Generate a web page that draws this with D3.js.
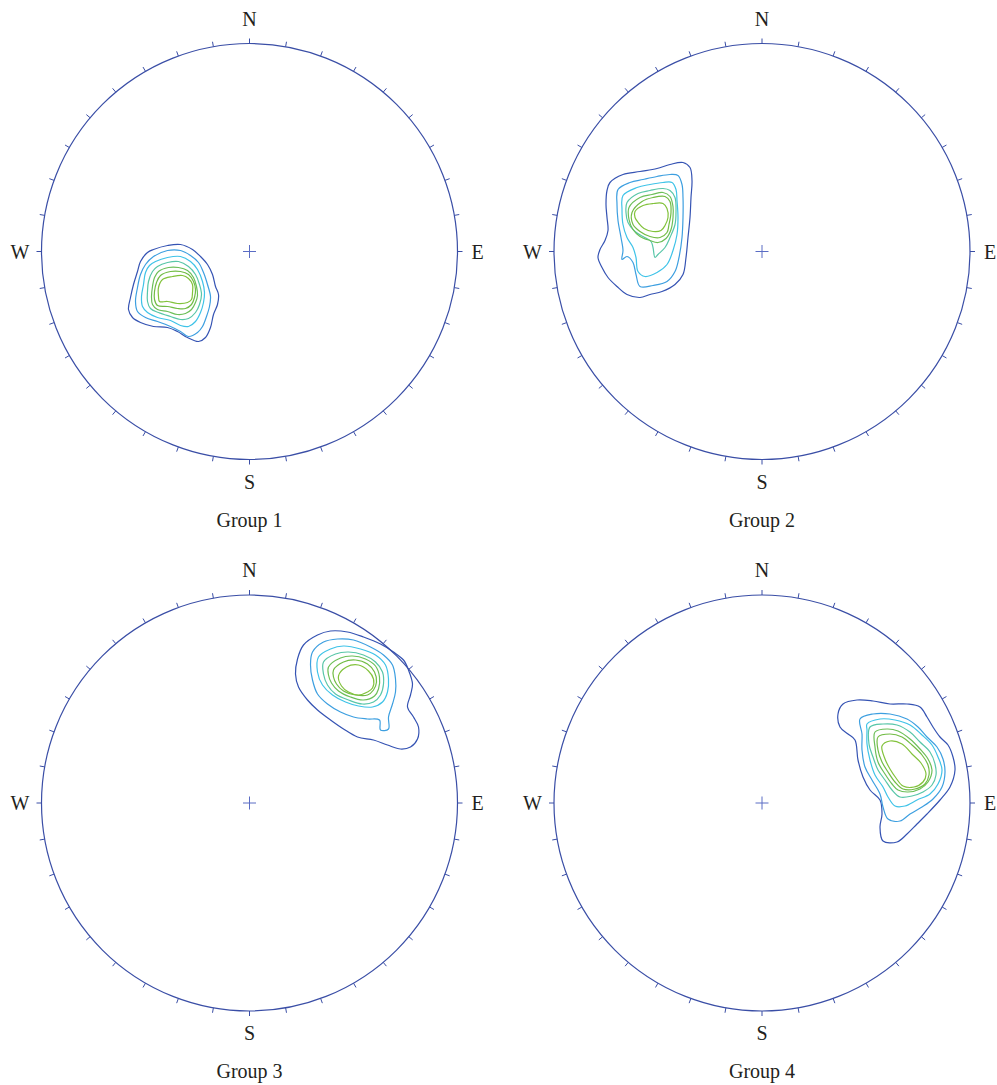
<!DOCTYPE html>
<html>
<head>
<meta charset="utf-8">
<title>Pole density stereonets</title>
<script src="https://d3js.org/d3.v7.min.js"></script>
<style>
  body { margin: 0; background: #fff; }
  text { font-family: "Liberation Serif", "DejaVu Serif", serif; font-size: 20px; fill: #231f20; }
</style>
</head>
<body>
<svg width="997" height="1085"></svg>
<script>
// panel titles and compass labels
var groupNames = ["Group 1", "Group 2", "Group 3", "Group 4"];
var compass = [
  { label: "N", az: 0 },
  { label: "E", az: 90 },
  { label: "S", az: 180 },
  { label: "W", az: 270 }
];
var tickStep = 10; // degrees between rim ticks

// contour level colours, outermost (lowest density) first
var levelColors = ["#3553b3", "#3d9fe0", "#3fc3e8", "#58c6a8", "#6cbf58", "#72bc45", "#82c23b"];

// density contours, traced off the nets: [east, north] in net units (radius 208)
var group1Contours = [
  [[-96,2],[-82,6],[-69,7],[-57,2],[-49,-5],[-42,-13],[-37,-23],[-34,-35],[-31,-43],[-32,-53],[-36,-63],[-39,-76],[-44,-86],[-51,-90],[-62,-86],[-72,-80],[-82,-76],[-96,-75],[-109,-71],[-117,-66],[-121,-58],[-119,-46],[-116,-33],[-112,-20],[-109,-10],[-102,-1]],
  [[-96,-5],[-82,1],[-69,1],[-59,-4],[-51,-11],[-46,-21],[-42,-33],[-39,-45],[-40,-55],[-43,-65],[-47,-75],[-52,-81],[-61,-85],[-69,-80],[-79,-75],[-92,-70],[-104,-66],[-112,-60],[-114,-50],[-112,-36],[-109,-23],[-104,-13]],
  [[-94,-10],[-82,-6],[-69,-5],[-59,-10],[-52,-18],[-47,-30],[-45,-41],[-46,-51],[-49,-61],[-54,-70],[-61,-75],[-69,-74],[-79,-69],[-92,-66],[-102,-61],[-107,-55],[-108,-45],[-106,-33],[-104,-21],[-100,-14]],
  [[-92,-15],[-82,-11],[-71,-10],[-61,-15],[-54,-23],[-50,-33],[-48,-43],[-50,-53],[-54,-61],[-61,-67],[-69,-68],[-79,-65],[-91,-61],[-99,-57],[-102,-50],[-102,-40],[-101,-30],[-97,-20]],
  [[-91,-20],[-81,-16],[-71,-16],[-62,-19],[-56,-26],[-53,-35],[-52,-44],[-54,-51],[-58,-58],[-64,-62],[-72,-63],[-82,-60],[-92,-58],[-97,-53],[-98,-45],[-97,-35],[-95,-26]],
  [[-89,-24],[-79,-20],[-69,-20],[-61,-23],[-56,-30],[-54,-38],[-55,-46],[-58,-53],[-64,-57],[-72,-57],[-82,-55],[-92,-54],[-95,-48],[-95,-40],[-93,-31]],
  [[-87,-28],[-77,-25],[-67,-24],[-61,-27],[-57,-33],[-57,-41],[-58,-48],[-62,-51],[-72,-52],[-82,-50],[-90,-50],[-91,-45],[-91,-36]]
];

var group2Contours = [
  [[-152,69],[-139,77],[-122,80],[-105,83],[-92,87],[-79,89],[-72,84],[-70,71],[-71,54],[-72,34],[-74,14],[-76,-6],[-79,-23],[-87,-33],[-100,-40],[-112,-43],[-122,-46],[-135,-43],[-145,-35],[-154,-26],[-160,-16],[-164,-6],[-162,2],[-157,11],[-154,21],[-155,34],[-156,47],[-155,61]],
  [[-144,62],[-132,69],[-119,72],[-105,75],[-92,77],[-84,76],[-80,67],[-79,54],[-79,34],[-80,14],[-83,-6],[-87,-20],[-95,-30],[-109,-34],[-122,-35],[-126,-23],[-129,-11],[-135,-5],[-140,-8],[-139,1],[-141,14],[-144,31],[-145,47]],
  [[-139,56],[-125,64],[-112,67],[-99,69],[-90,69],[-86,62],[-85,51],[-84,34],[-85,17],[-89,1],[-95,-13],[-105,-21],[-117,-25],[-124,-20],[-126,-6],[-129,4],[-135,14],[-139,27],[-140,42]],
  [[-135,49],[-124,58],[-112,61],[-99,63],[-92,61],[-87,54],[-86,40],[-87,27],[-92,14],[-97,4],[-104,-3],[-107,-6],[-109,4],[-111,10],[-119,15],[-127,20],[-134,29],[-136,39]],
  [[-133,44],[-122,54],[-110,57],[-99,59],[-92,55],[-89,45],[-89,34],[-91,22],[-96,13],[-104,9],[-112,11],[-122,15],[-129,22],[-133,32]],
  [[-130,39],[-120,50],[-109,54],[-97,55],[-92,50],[-91,39],[-93,27],[-95,19],[-102,14],[-112,15],[-122,20],[-129,27]],
  [[-127,40],[-119,46],[-109,48],[-99,48],[-95,43],[-94,34],[-97,26],[-101,21],[-109,20],[-118,23],[-123,28],[-127,34]]
];

var group3Contours = [
  [[54,158],[68,168],[81,172],[98,171],[114,166],[131,159],[144,151],[154,143],[159,133],[163,119],[161,108],[158,96],[164,86],[169,76],[168,64],[161,56],[151,54],[138,58],[124,63],[108,66],[94,74],[81,83],[68,93],[58,103],[49,116],[46,129],[48,144]],
  [[63,151],[74,161],[88,164],[104,163],[121,156],[134,148],[143,138],[146,124],[146,111],[143,99],[139,86],[139,74],[131,73],[130,83],[118,84],[104,86],[91,91],[78,99],[68,109],[63,123],[61,138]],
  [[69,146],[81,154],[94,157],[111,154],[126,148],[136,138],[139,124],[138,111],[133,101],[123,96],[109,97],[96,101],[83,108],[73,118],[68,131]],
  [[74,141],[86,149],[99,151],[114,148],[126,141],[133,131],[134,119],[131,108],[124,101],[113,99],[99,103],[86,109],[78,118],[74,129]],
  [[79,136],[91,145],[103,147],[116,144],[126,137],[130,126],[129,114],[125,107],[114,103],[101,106],[89,112],[82,120],[79,128]],
  [[84,133],[94,141],[106,143],[118,139],[125,131],[127,121],[124,113],[118,108],[106,108],[94,112],[87,119],[84,126]],
  [[89,127],[97,136],[109,138],[119,132],[124,124],[123,115],[118,111],[109,108],[99,111],[92,117]]
];

var group4Contours = [
  [[81,99],[95,103],[111,102],[128,99],[145,99],[158,96],[165,86],[171,76],[178,66],[186,58],[191,46],[193,33],[188,16],[178,3],[165,-11],[155,-21],[145,-31],[135,-39],[121,-38],[118,-24],[120,-11],[118,3],[108,13],[101,26],[96,43],[93,63],[86,69],[78,76],[76,89]],
  [[98,84],[111,89],[128,89],[145,84],[156,76],[165,66],[175,56],[181,44],[183,31],[180,16],[171,4],[160,-4],[148,-11],[138,-18],[126,-16],[121,-4],[118,9],[110,23],[103,36],[100,53],[100,69]],
  [[105,79],[118,84],[133,83],[148,78],[160,68],[170,58],[176,46],[180,33],[176,19],[168,9],[155,3],[143,-3],[133,-3],[126,6],[121,16],[113,28],[108,43],[105,59],[105,73]],
  [[108,76],[121,79],[135,78],[148,71],[158,61],[168,51],[173,39],[174,28],[170,18],[161,11],[150,7],[138,6],[130,13],[123,23],[116,33],[111,46],[107,59]],
  [[113,71],[125,74],[136,72],[148,64],[158,54],[166,44],[170,33],[166,21],[158,14],[146,11],[136,13],[130,19],[123,29],[116,41],[113,56]],
  [[116,66],[128,69],[140,66],[150,58],[160,48],[166,38],[167,28],[163,19],[153,14],[141,14],[133,21],[126,31],[120,41],[116,53]],
  [[120,57],[128,62],[140,59],[150,49],[159,40],[164,29],[161,21],[152,16],[141,17],[134,25],[128,34],[123,44]]
];

var allContours = [group1Contours, group2Contours, group3Contours, group4Contours];

var svg = d3.select("svg");
var R = 208;
var centers = [[249.5, 251.5], [762, 251.5], [249.5, 803], [762, 803]];

var x = d3.scaleLinear().domain([-208, 208]).range([-R, R]);
var y = d3.scaleLinear().domain([-208, 208]).range([R, -R]);

var line = d3.line()
    .x(function(d) { return x(d[0]); })
    .y(function(d) { return y(d[1]); })
    .curve(d3.curveCatmullRomClosed.alpha(0.5));

var rim = "#3a4ea6";

groupNames.forEach(function(name, i) {
  var g = svg.append("g")
      .attr("transform", "translate(" + centers[i][0] + "," + centers[i][1] + ")");

  // contours first so the rim sits on top
  g.selectAll("path.contour")
    .data(allContours[i])
    .join("path")
      .attr("class", "contour")
      .attr("d", line)
      .attr("fill", "none")
      .attr("stroke", function(d, k) { return levelColors[k]; })
      .attr("stroke-width", 1.2);

  g.append("circle")
      .attr("r", R)
      .attr("fill", "none")
      .attr("stroke", rim)
      .attr("stroke-width", 1.2);

  // rim ticks, pointing outward
  g.selectAll("line.tick")
    .data(d3.range(0, 360, tickStep))
    .join("line")
      .attr("class", "tick")
      .attr("x1", function(a) { return R * Math.sin(a * Math.PI / 180); })
      .attr("y1", function(a) { return -R * Math.cos(a * Math.PI / 180); })
      .attr("x2", function(a) { return (R + 5) * Math.sin(a * Math.PI / 180); })
      .attr("y2", function(a) { return -(R + 5) * Math.cos(a * Math.PI / 180); })
      .attr("stroke", rim)
      .attr("stroke-width", 1);

  // centre cross
  g.append("path")
      .attr("d", "M-6.5,0H6.5M0,-6.5V6.5")
      .attr("stroke", "#5a6cc4")
      .attr("stroke-width", 1);

  g.selectAll("text.dir")
    .data(compass)
    .join("text")
      .attr("class", "dir")
      .attr("x", function(d) {
        if (d.az == 90) return R + 14;
        if (d.az == 270) return -R - 12;
        return 0;
      })
      .attr("y", function(d) {
        if (d.az == 0) return -R - 18;
        if (d.az == 180) return R + 29;
        return 7;
      })
      .attr("text-anchor", function(d) {
        if (d.az == 90) return "start";
        if (d.az == 270) return "end";
        return "middle";
      })
      .text(function(d) { return d.label; });

  g.append("text")
      .attr("x", 0)
      .attr("y", R + 67)
      .attr("text-anchor", "middle")
      .text(name);
});
</script>
</body>
</html>
